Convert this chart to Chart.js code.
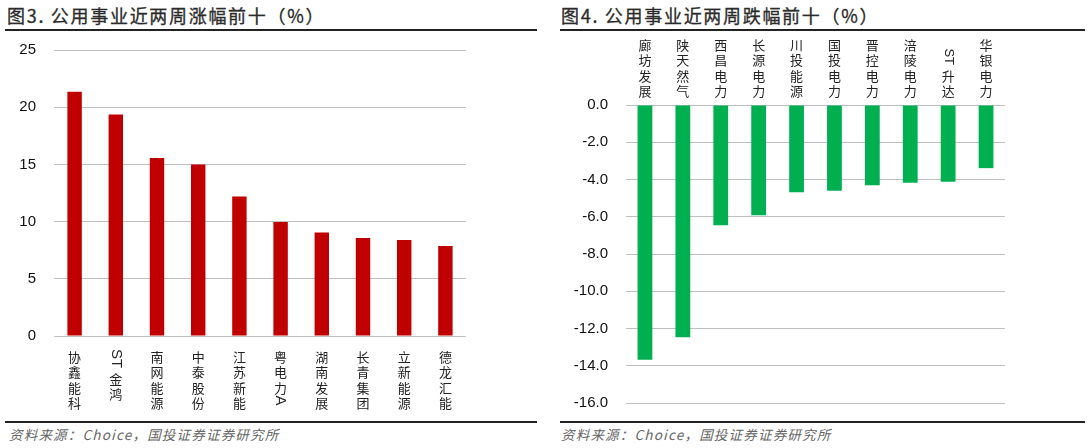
<!DOCTYPE html>
<html>
<head>
<meta charset="utf-8">
<script src="https://cdn.jsdelivr.net/npm/chart.js@4"></script>
<style>
  body { margin: 0; width: 1091px; height: 448px; background: #fff; position: relative; overflow: hidden; }
  .title { position: absolute; top: 5px; font: 18px/20px "Noto Sans CJK SC", sans-serif; letter-spacing: 1.7px; color: #2b2b2b; -webkit-text-stroke: 0.3px #2b2b2b; }
  .rule { position: absolute; height: 2px; background: #222; }
  .src { position: absolute; top: 426px; font: italic 13.5px/16px "Noto Sans CJK SC", sans-serif; letter-spacing: 1.2px; color: #666; }
  canvas { position: absolute; top: 32px; }
</style>
</head>
<body>
<div class="title" style="left:7px">图3. 公用事业近两周涨幅前十（%）</div>
<div class="title" style="left:561px">图4. 公用事业近两周跌幅前十（%）</div>
<div class="rule" style="left:5px;width:532px;top:29px"></div>
<div class="rule" style="left:560px;width:525px;top:29px"></div>
<div class="rule" style="left:5px;width:532px;top:421px"></div>
<div class="rule" style="left:560px;width:525px;top:421px"></div>
<div class="src" style="left:9px">资料来源：Choice，国投证券证券研究所</div>
<div class="src" style="left:561px">资料来源：Choice，国投证券证券研究所</div>
<canvas id="graficoSube" width="545" height="388" style="left:0"></canvas>
<canvas id="graficoBaja" width="546" height="388" style="left:545px"></canvas>
<script>
// Datos: 涨幅前十
const nombresSube = ['协鑫能科', 'ST金鸿', '南网能源', '中泰股份', '江苏新能', '粤电力A', '湖南发展', '长青集团', '立新能源', '德龙汇能'];
const valoresSube = [21.35, 19.36, 15.56, 15.0, 12.19, 9.97, 9.04, 8.57, 8.39, 7.87];

// Datos: 跌幅前十
const nombresBaja = ['廊坊发展', '陕天然气', '西昌电力', '长源电力', '川投能源', '国投电力', '晋控电力', '涪陵电力', 'ST升达', '华银电力'];
const valoresBaja = [-13.68, -12.47, -6.45, -5.92, -4.69, -4.60, -4.31, -4.17, -4.12, -3.39];

const ticksSube = { min: 0, max: 25, step: 5 };
const ticksBaja = { min: -16, max: 0, step: 2 };

// Partir una etiqueta en trozos: caracteres CJK sueltos y tramos latinos
function trozos(texto) {
    const res = [];
    let latin = '';
    for (const c of texto) {
        if (/[A-Za-z0-9]/.test(c)) {
            latin += c;
        } else {
            if (latin) { res.push({ t: latin, latin: true }); latin = ''; }
            res.push({ t: c, latin: false });
        }
    }
    if (latin) res.push({ t: latin, latin: true });
    return res;
}

// Etiquetas verticales del eje x
const etiquetasVerticales = {
    id: 'etiquetasVerticales',
    afterDraw(chart, args, opts) {
        const ctx = chart.ctx;
        const xs = chart.scales.x;
        const area = chart.chartArea;
        const paso = 15.5;
        ctx.save();
        ctx.fillStyle = '#222';
        chart.data.labels.forEach((lab, i) => {
            const x = xs.getPixelForTick(i);
            const partes = trozos(lab).map(p => {
                ctx.font = opts.latinFont;
                const len = p.latin ? ctx.measureText(p.t).width + 3 : paso;
                return Object.assign({ len }, p);
            });
            const total = partes.reduce((s, p) => s + p.len, 0);
            let y = opts.arriba ? area.top - 6 - total : area.bottom + 13;
            partes.forEach(p => {
                if (p.latin) {
                    ctx.save();
                    ctx.font = opts.latinFont;
                    ctx.translate(x, y);
                    ctx.rotate(Math.PI / 2);
                    ctx.textAlign = 'left';
                    ctx.textBaseline = 'middle';
                    ctx.fillText(p.t, 0, 0);
                    ctx.restore();
                } else {
                    ctx.font = '13px "Noto Sans CJK SC"';
                    ctx.textAlign = 'center';
                    ctx.textBaseline = 'middle';
                    ctx.fillText(p.t, x, y + p.len / 2);
                }
                y += p.len;
            });
        });
        ctx.restore();
    }
};

function crearGrafico(id, nombres, valores, color, lim, ancho, padding, arriba, latinFont, decimales, barPct) {
    const ctx = document.getElementById(id).getContext('2d');
    return new Chart(ctx, {
        type: 'bar',
        data: {
            labels: nombres,
            datasets: [{
                data: valores,
                backgroundColor: color,
                borderWidth: 0,
                categoryPercentage: 1,
                barPercentage: barPct
            }]
        },
        options: {
            responsive: false,
            animation: false,
            layout: { padding: padding },
            plugins: {
                legend: { display: false },
                tooltip: { enabled: false },
                etiquetasVerticales: { arriba: arriba, latinFont: latinFont }
            },
            scales: {
                x: {
                    position: arriba ? 'top' : 'bottom',
                    ticks: { display: false },
                    grid: { display: false, drawTicks: false },
                    border: { display: false }
                },
                y: {
                    min: lim.min,
                    max: lim.max,
                    afterFit: s => { s.width = ancho; },
                    ticks: {
                        stepSize: lim.step,
                        padding: 0,
                        color: '#111',
                        font: { family: 'Liberation Sans', size: 15 },
                        callback: v => v.toFixed(decimales)
                    },
                    grid: { color: '#bfbfbf', lineWidth: 1, drawTicks: true, tickLength: 18, tickColor: 'rgba(0,0,0,0)' },
                    border: { display: false }
                }
            }
        },
        plugins: [etiquetasVerticales]
    });
}

const g1 = crearGrafico('graficoSube', nombresSube, valoresSube, '#C00000', ticksSube, 54,
    { left: 0, right: 79, top: 18, bottom: 84 }, false, '15px "Liberation Sans"', 0, 0.35);
const g2 = crearGrafico('graficoBaja', nombresBaja, valoresBaja, '#00B050', ticksBaja, 81,
    { left: 0, right: 86, top: 73, bottom: 17 }, true, '13px "Liberation Sans"', 1, 0.39);
</script>
</body>
</html>
